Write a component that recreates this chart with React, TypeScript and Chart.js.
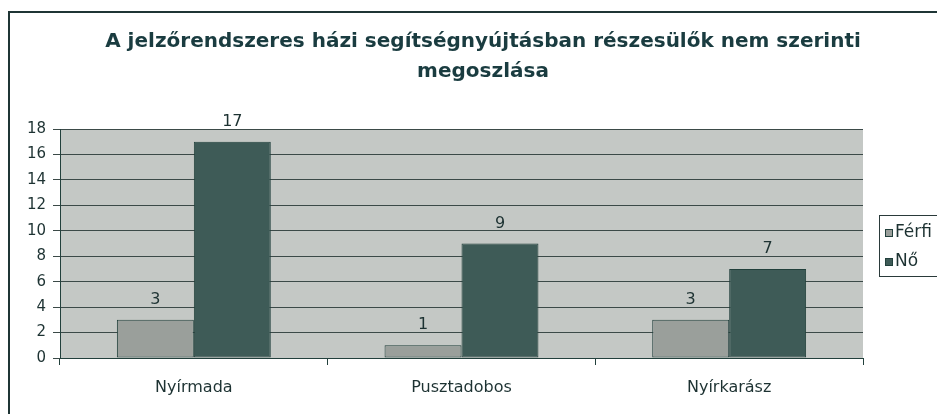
import React, { useEffect, useRef } from "react";
import { Chart, registerables } from "chart.js";

Chart.register(...registerables);

const titleLines = [
  "A jelzőrendszeres házi segítségnyújtásban részesülők nem szerinti",
  "megoszlása",
];
const categories = ["Nyírmada", "Pusztadobos", "Nyírkarász"];
const seriesNames = ["Férfi", "Nő"];
const ferfiValues = [3, 1, 3];
const noValues = [17, 9, 7];
const yMin = 0;
const yMax = 18;
const yStep = 2;

const FONT = "'DejaVu Sans', 'Liberation Sans', Arial, sans-serif";
const INK = "#1d3232";
const DARK = "#22403c";
const PLOT_BG = "#c4c8c5";
const FERFI_COLOR = "#9a9f9b";
const NO_COLOR = "#3e5b57";

const framePlugin = {
  id: "frame",
  beforeDraw(chart: any) {
    const { ctx, chartArea } = chart;
    ctx.save();
    ctx.fillStyle = "#ffffff";
    ctx.fillRect(0, 0, chart.width, chart.height);
    ctx.fillStyle = "#1f3535";
    ctx.fillRect(8, 11, chart.width, 2);
    ctx.fillRect(8, 11, 2, chart.height);
    ctx.fillStyle = PLOT_BG;
    ctx.fillRect(
      chartArea.left,
      chartArea.top,
      chartArea.right - chartArea.left,
      chartArea.bottom - chartArea.top
    );
    ctx.restore();
  },
};

const labelsPlugin = {
  id: "barLabels",
  afterDatasetsDraw(chart: any) {
    const { ctx } = chart;
    ctx.save();
    ctx.font = `16px ${FONT}`;
    ctx.fillStyle = INK;
    ctx.textAlign = "center";
    ctx.textBaseline = "middle";
    chart.data.datasets.forEach((ds: any, i: number) => {
      const meta = chart.getDatasetMeta(i);
      meta.data.forEach((el: any, j: number) => {
        ctx.fillText(String(ds.data[j]), el.x, el.y - 20);
      });
    });
    ctx.restore();
  },
};

const legendPlugin = {
  id: "boxLegend",
  afterDraw(chart: any) {
    const { ctx, chartArea } = chart;
    const x = chartArea.right + 16;
    const y = 215;
    const h = 61;
    ctx.save();
    ctx.fillStyle = "#ffffff";
    ctx.fillRect(x, y, 120, h);
    ctx.strokeStyle = "#2a3a3a";
    ctx.lineWidth = 1;
    ctx.strokeRect(x + 0.5, y + 0.5, 120, h);
    ctx.font = `17px ${FONT}`;
    ctx.textBaseline = "middle";
    ctx.textAlign = "left";
    chart.data.datasets.forEach((ds: any, i: number) => {
      const cy = y + 18 + i * 29;
      ctx.fillStyle = ds.backgroundColor;
      ctx.fillRect(x + 6, cy - 4, 8, 8);
      ctx.strokeStyle = DARK;
      ctx.strokeRect(x + 6.5, cy - 3.5, 7, 7);
      ctx.fillStyle = INK;
      ctx.fillText(ds.label, x + 16, cy);
    });
    ctx.restore();
  },
};

export default function App() {
  const canvasRef = useRef<HTMLCanvasElement | null>(null);

  useEffect(() => {
    document.body.style.margin = "0";
    document.body.style.overflow = "hidden";
    const canvas = canvasRef.current;
    if (!canvas) return;
    const chart = new Chart(canvas, {
      type: "bar",
      data: {
        labels: categories,
        datasets: [
          {
            label: seriesNames[0],
            data: ferfiValues,
            backgroundColor: FERFI_COLOR,
            borderColor: DARK,
            borderWidth: 1,
            borderSkipped: false,
            categoryPercentage: 0.575,
            barPercentage: 1,
          },
          {
            label: seriesNames[1],
            data: noValues,
            backgroundColor: NO_COLOR,
            borderColor: DARK,
            borderWidth: 1,
            borderSkipped: false,
            categoryPercentage: 0.575,
            barPercentage: 1,
          },
        ],
      },
      options: {
        responsive: false,
        animation: false,
        devicePixelRatio: 1,
        layout: { padding: { left: 10, right: 4, top: 12, bottom: 0 } },
        plugins: {
          legend: { display: false },
          tooltip: { enabled: false },
          title: {
            display: true,
            text: titleLines,
            color: "#1a3c40",
            font: { family: FONT, size: 20, weight: "bold", lineHeight: 1.5 },
            padding: { top: 15, bottom: 42 },
          },
        },
        scales: {
          x: {
            grid: {
              display: true,
              drawOnChartArea: false,
              drawTicks: true,
              tickLength: 7,
              color: DARK,
              offset: true,
            },
            border: { display: true, color: DARK, width: 1 },
            ticks: {
              color: INK,
              font: { family: FONT, size: 16 },
              padding: 13,
            },
            afterFit: (s: any) => {
              s.height = 56;
            },
          },
          y: {
            min: yMin,
            max: yMax,
            ticks: {
              stepSize: yStep,
              color: INK,
              font: { family: FONT, size: 15 },
              padding: 7,
            },
            grid: { color: "#3b4a48", lineWidth: 1, tickLength: 7 },
            border: { display: true, color: DARK, width: 1 },
            afterFit: (s: any) => {
              s.width = 50;
            },
          },
          sp: {
            type: "linear",
            position: "right",
            display: true,
            grid: { display: false },
            ticks: { display: false },
            border: { display: false },
            afterFit: (s: any) => {
              s.width = 93;
            },
          },
        },
      },
      plugins: [framePlugin, labelsPlugin, legendPlugin],
    } as any);
    return () => chart.destroy();
  }, []);

  return (
    <div
      style={{
        position: "absolute",
        left: 0,
        top: 0,
        width: 937,
        height: 414,
        overflow: "hidden",
        background: "#fff",
      }}
    >
      <canvas ref={canvasRef} width={960} height={414} style={{ display: "block" }} />
    </div>
  );
}
